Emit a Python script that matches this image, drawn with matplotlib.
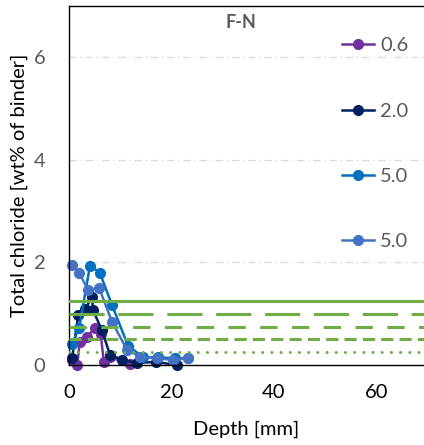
import matplotlib
matplotlib.use("Agg")
import matplotlib.pyplot as plt

# Data
labels = ["0.6", "2.0", "5.0", "5.0"]
colors = ["#7030A0", "#002060", "#0070C0", "#4472C4"]
x_s1 = [0.5, 1.6, 2.1, 3.5, 5.1, 6.2, 6.8, 8.0, 12.0]
y_s1 = [0.1, 0.0, 0.45, 0.55, 0.72, 0.6, 0.06, 0.15, 0.02]
x_s2 = [0.6, 1.8, 3.2, 4.5, 4.7, 6.4, 8.0, 10.4, 13.3, 17.0, 21.0]
y_s2 = [0.13, 0.97, 1.1, 1.32, 1.07, 0.68, 0.2, 0.1, 0.04, 0.06, 0.0]
x_s3 = [0.6, 2.0, 4.1, 6.0, 8.4, 11.5, 14.5, 17.4, 20.7, 23.2]
y_s3 = [0.4, 0.73, 1.94, 1.8, 1.17, 0.38, 0.15, 0.15, 0.13, 0.13]
x_s4 = [0.6, 2.0, 3.7, 5.9, 8.4, 11.3, 13.9, 17.2, 20.3, 23.2]
y_s4 = [1.95, 1.8, 1.46, 1.5, 0.84, 0.3, 0.16, 0.13, 0.1, 0.14]
series_x = [x_s1, x_s2, x_s3, x_s4]
series_y = [y_s1, y_s2, y_s3, y_s4]

limit_levels = [1.25, 1.0, 0.75, 0.5, 0.25]
x_ticks = [0, 20, 40, 60]
y_ticks = [0, 2, 4, 6]

plt.rcParams['font.family'] = ['Lato', 'DejaVu Sans']
FS = 14.5

fig = plt.figure(figsize=(4.24, 4.45), dpi=100)
ax = fig.add_axes([69/424, 1-365/445, 1-69/424, (365-6)/445])
ax.set_xlim(0, 69.3)
ax.set_ylim(0, 7)

green = "#70AD47"
lw_g = 2.2
dash_styles = [None, (0, (11.5, 4.5)), (0, (5.7, 4.7)), (0, (4, 2)), (0, (0.01, 3))]
for lvl, ds in zip(limit_levels, dash_styles):
    if ds is None:
        ax.axhline(lvl, color=green, lw=lw_g, zorder=3)
    elif ds[1][0] < 0.1:
        ax.axhline(lvl, color=green, lw=lw_g, linestyle=ds, dash_capstyle='round', zorder=3)
    else:
        ax.axhline(lvl, color=green, lw=lw_g, linestyle=ds, zorder=3)

for i, (xs, ys) in enumerate(zip(series_x, series_y)):
    ax.plot(xs, ys, color=colors[i], lw=1.8, marker='o', markersize=7,
            label=labels[i], zorder=2, clip_on=False)

for yv in [2, 4, 6]:
    ax.axhline(yv, color="#D9D9D9", lw=0.9, linestyle=(0, (6, 3, 1, 3)), zorder=0)

ax.set_xticks(x_ticks)
ax.set_yticks(y_ticks)
ax.tick_params(axis='both', length=0, labelsize=FS)
ax.tick_params(axis='x', pad=14, colors='black')
ax.tick_params(axis='y', pad=17, labelcolor='#595959')
for s in ['left', 'bottom', 'top']:
    ax.spines[s].set_color('black')
    ax.spines[s].set_linewidth(1.0)
ax.spines['right'].set_visible(False)

ax.set_xlabel("Depth [mm]", fontsize=FS, labelpad=14)
ax.set_ylabel("Total chloride [wt% of binder]", fontsize=FS, labelpad=4)

ax.text(0.485, 0.955, "F-N", transform=ax.transAxes, ha='center', va='center',
        fontsize=13, fontweight='bold', color='#595959')

leg = ax.legend(loc='upper left', bbox_to_anchor=(334/424, 1-29/445),
                bbox_transform=fig.transFigure, frameon=False, borderaxespad=0,
                fontsize=FS, labelspacing=2.4, handlelength=1.6,
                handletextpad=0.3, labelcolor='#595959')

fig.savefig("out.png", dpi=100)
